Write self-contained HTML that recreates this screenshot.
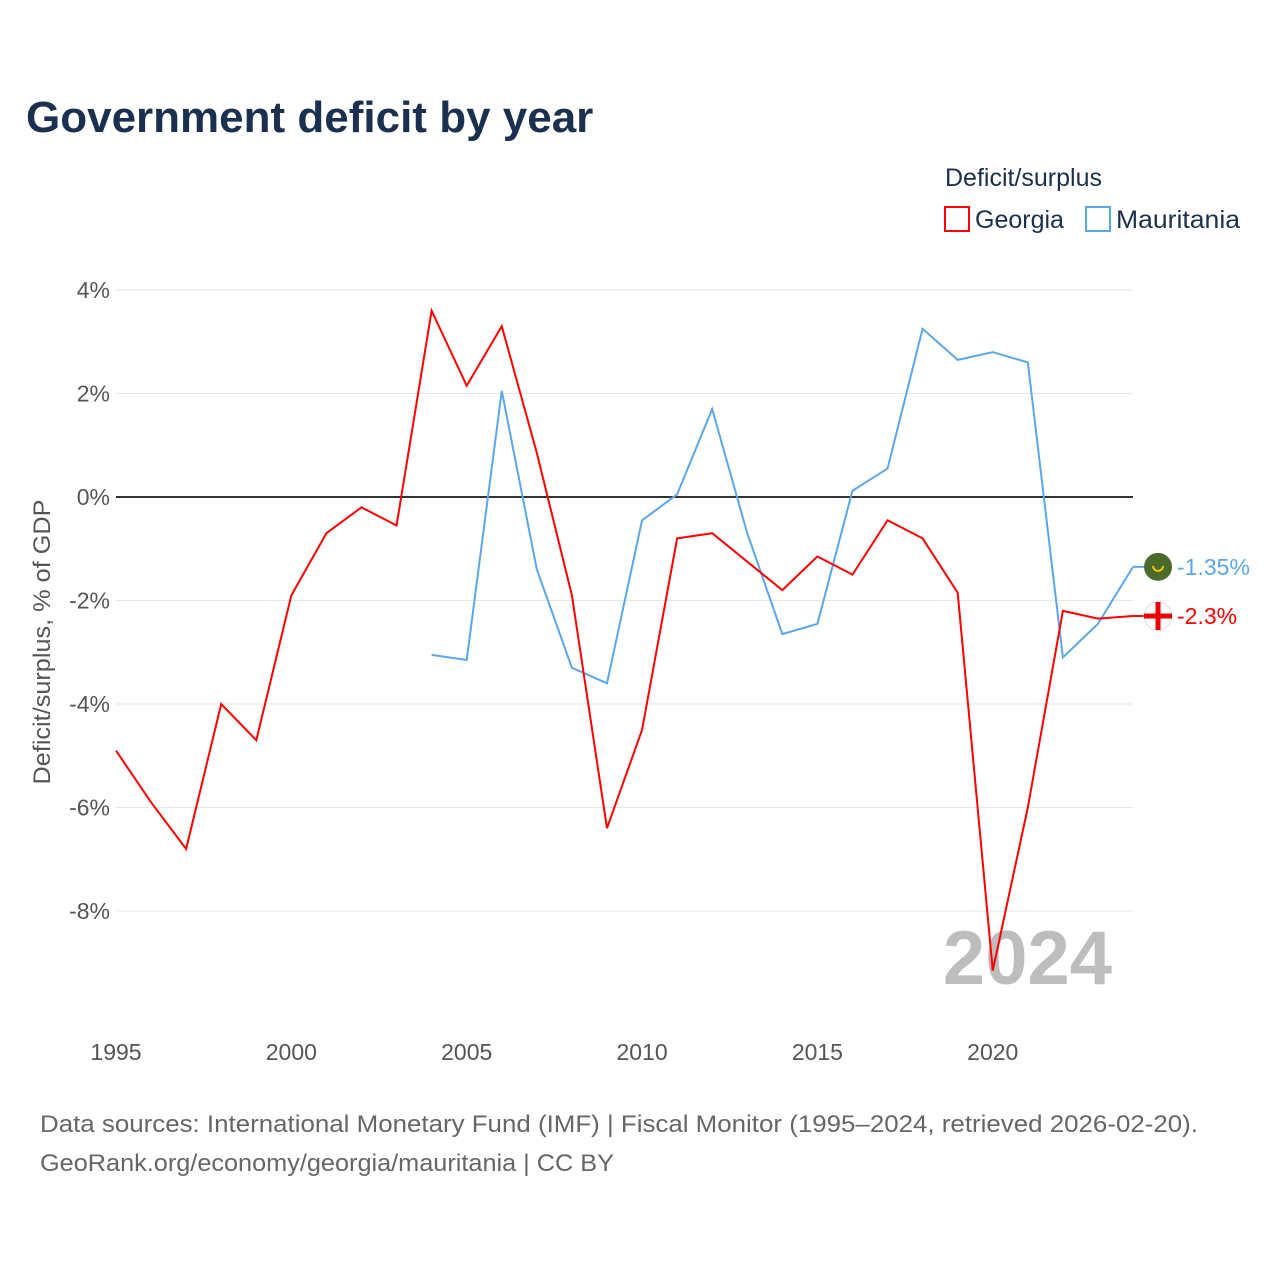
<!DOCTYPE html>
<html><head><meta charset="utf-8">
<style>
body{margin:0;background:#fff;}
svg text{font-family:"Liberation Sans",sans-serif;}
</style></head>
<body>
<svg width="1280" height="1280" viewBox="0 0 1280 1280">
<text x="26" y="132" font-size="44" font-weight="bold" fill="#1a3050">Government deficit by year</text>
<text x="945" y="186" font-size="25" fill="#1a3050">Deficit/surplus</text>
<g><rect x="945" y="207" width="24" height="24" fill="none" stroke="#f00" stroke-width="2"/><text x="975" y="228" font-size="25" fill="#1a3050">Georgia</text></g>
<g><rect x="1086" y="207" width="24" height="24" fill="none" stroke="#5aa6ea" stroke-width="2"/><text x="1116" y="228" font-size="25" fill="#1a3050" textLength="124" lengthAdjust="spacingAndGlyphs">Mauritania</text></g>
<g id="grid"></g>
<text x="1112" y="984" font-size="76" font-weight="bold" fill="#bdbdbd" text-anchor="end">2024</text>
<g id="lines"></g>
<text transform="translate(50,642) rotate(-90)" font-size="24" fill="#555" text-anchor="middle" textLength="285" lengthAdjust="spacingAndGlyphs">Deficit/surplus, % of GDP</text>
<text x="40" y="1132" font-size="24" fill="#666" textLength="1158" lengthAdjust="spacingAndGlyphs">Data sources: International Monetary Fund (IMF) | Fiscal Monitor (1995–2024, retrieved 2026-02-20).</text>
<text x="40" y="1171" font-size="24" fill="#666" textLength="574" lengthAdjust="spacingAndGlyphs">GeoRank.org/economy/georgia/mauritania | CC BY</text>
</svg>
<script>
const yTicks=[4,2,0,-2,-4,-6,-8];
const xTicks=[1995,2000,2005,2010,2015,2020];
const georgiaYears=[1995,1996,1997,1998,1999,2000,2001,2002,2003,2004,2005,2006,2007,2008,2009,2010,2011,2012,2013,2014,2015,2016,2017,2018,2019,2020,2021,2022,2023,2024];
const georgiaValues=[-4.9,-5.9,-6.8,-4.0,-4.7,-1.9,-0.7,-0.2,-0.55,3.6,2.15,3.3,0.85,-1.9,-6.4,-4.5,-0.8,-0.7,-1.25,-1.8,-1.15,-1.5,-0.45,-0.8,-1.85,-9.15,-6.0,-2.2,-2.35,-2.3];
const mauritaniaYears=[2004,2005,2006,2007,2008,2009,2010,2011,2012,2013,2014,2015,2016,2017,2018,2019,2020,2021,2022,2023,2024];
const mauritaniaValues=[-3.05,-3.15,2.05,-1.4,-3.3,-3.6,-0.45,0.05,1.7,-0.7,-2.65,-2.45,0.12,0.55,3.25,2.65,2.8,2.6,-3.1,-2.45,-1.35];
const NS="http://www.w3.org/2000/svg";
const X=y=>116+(y-1995)*35.07;
const Y=v=>497-v*51.75;
function mk(t,a,p){const e=document.createElementNS(NS,t);for(const k in a)e.setAttribute(k,a[k]);p.appendChild(e);return e;}
const grid=document.getElementById('grid'),lines=document.getElementById('lines');
yTicks.forEach(v=>{
 const l=mk('line',{x1:116,x2:1133,y1:Y(v),y2:Y(v),stroke:v===0?'#333':'#e6e6e6','stroke-width':v===0?2:1},grid);
 
 
 const t=mk('text',{x:110,y:Y(v)+8,'font-size':23,fill:'#555','text-anchor':'end'},grid);
 t.textContent=v+'%';
 
 
});
xTicks.forEach(v=>{
 const t=mk('text',{x:X(v),y:1060,'font-size':23,fill:'#555','text-anchor':'middle'},grid);
 t.textContent=v;
 
 
});
function line(ys,vs,c,name){
 const p=mk('polyline',{points:ys.map((y,i)=>X(y)+','+Y(vs[i])).join(' '),fill:'none',stroke:c,'stroke-width':2},lines);
 
 
}
line(mauritaniaYears,mauritaniaValues,'#5aa6ea','mauritania-line');
line(georgiaYears,georgiaValues,'#f00','georgia-line');
function endLabel(ys,vs,c,name,txt,georgia){
 const x=X(ys[ys.length-1]),y=Y(vs[vs.length-1]);
 const g=mk('g',{},lines);
 
 
 mk('line',{x1:x,x2:x+12,y1:y,y2:y,stroke:c,'stroke-width':2},g);
 if(georgia){
  mk('circle',{cx:x+25,cy:y,r:14,fill:'#fff',stroke:'#ddd'},g);
  mk('rect',{x:x+11,y:y-2.5,width:28,height:5,fill:'#e00'},g);
  mk('rect',{x:x+22.5,y:y-14,width:5,height:28,fill:'#e00'},g);
 }else{
  mk('circle',{cx:x+25,cy:y,r:14,fill:'#4a6b2a'},g);
  mk('path',{d:`M${x+20} ${y-1} a5 5 0 0 0 10 0`,fill:'none',stroke:'#f5c400','stroke-width':2},g);
 }
 const t=mk('text',{x:x+44,y:y+8,'font-size':23,fill:c},g);
 t.textContent=txt;
}
endLabel(mauritaniaYears,mauritaniaValues,'#5aa6ea','mauritania-end-label',mauritaniaValues[mauritaniaValues.length-1]+'%',false);
endLabel(georgiaYears,georgiaValues,'#f00','georgia-end-label',georgiaValues[georgiaValues.length-1]+'%',true);
</script>
</body></html>
